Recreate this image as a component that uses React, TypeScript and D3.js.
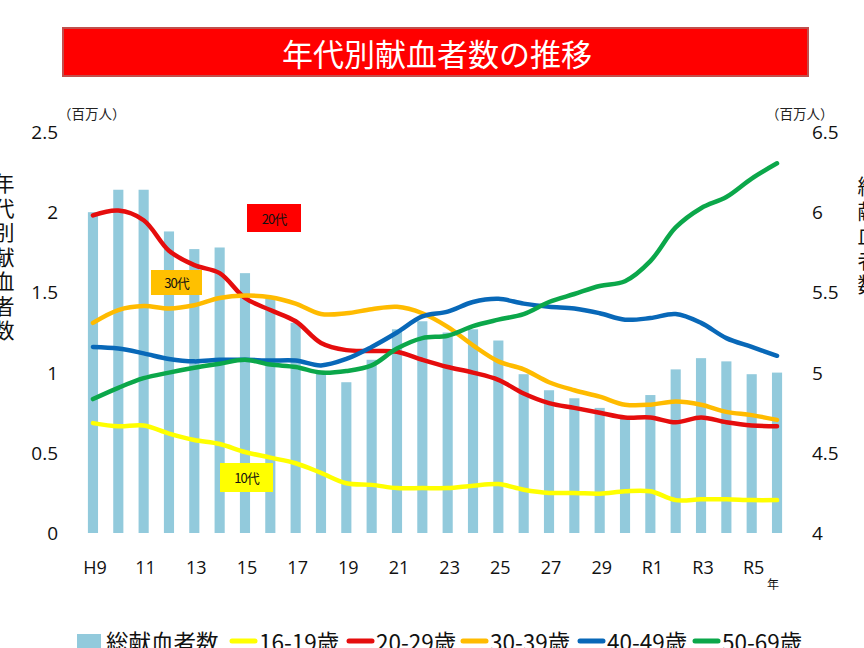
import React from "react";
import * as d3 from "d3";

const categories = [
  "H9","H10","H11","H12","H13","H14","H15","H16","H17","H18","H19","H20","H21","H22",
  "H23","H24","H25","H26","H27","H28","H29","H30","R1","R2","R3","R4","R5","R6",
];
const tickLabels = ["H9","11","13","15","17","19","21","23","25","27","29","R1","R3","R5"];
const tickCats = ["H9","H11","H13","H15","H17","H19","H21","H23","H25","H27","H29","R1","R3","R5"];

const totalDonors = [
  6.0, 6.14, 6.14, 5.88, 5.77, 5.78, 5.62, 5.46, 5.31, 5.0, 4.94, 5.08, 5.27, 5.32,
  5.25, 5.27, 5.2, 4.99, 4.89, 4.84, 4.78, 4.72, 4.86, 5.02, 5.09, 5.07, 4.99, 5.0,
];
const age16to19 = [
  0.685, 0.665, 0.67, 0.62, 0.58, 0.555, 0.505, 0.47, 0.435, 0.375, 0.31, 0.3, 0.28, 0.28,
  0.28, 0.295, 0.305, 0.27, 0.25, 0.25, 0.245, 0.26, 0.26, 0.205, 0.21, 0.21, 0.205, 0.205,
];
const age20to29 = [
  1.98, 2.01, 1.95, 1.76, 1.67, 1.62, 1.465, 1.39, 1.32, 1.185, 1.14, 1.135, 1.13, 1.08,
  1.035, 1.0, 0.955, 0.87, 0.81, 0.78, 0.75, 0.72, 0.72, 0.69, 0.72, 0.69, 0.67, 0.665,
];
const age30to39 = [
  1.31, 1.39, 1.415, 1.4, 1.42, 1.465, 1.48, 1.47, 1.43, 1.365, 1.37, 1.395, 1.41, 1.37,
  1.285, 1.17, 1.07, 1.02, 0.94, 0.89, 0.85, 0.8, 0.8, 0.82, 0.8, 0.755, 0.735, 0.705,
];
const age40to49 = [
  1.16, 1.15, 1.12, 1.085, 1.07, 1.08, 1.08, 1.075, 1.075, 1.045, 1.085, 1.16, 1.25, 1.35,
  1.38, 1.44, 1.46, 1.43, 1.41, 1.4, 1.37, 1.33, 1.34, 1.365, 1.31, 1.215, 1.16, 1.105,
];
const age50to69 = [
  0.835, 0.905, 0.965, 1.0, 1.03, 1.055, 1.08, 1.05, 1.035, 1.0, 1.01, 1.045, 1.15, 1.215,
  1.23, 1.29, 1.33, 1.365, 1.44, 1.49, 1.54, 1.57, 1.695, 1.905, 2.025, 2.095, 2.21, 2.305,
];
const leftTicks = [0, 0.5, 1, 1.5, 2, 2.5];
const rightTicks = [4, 4.5, 5, 5.5, 6, 6.5];
const legendLabels = ["総献血者数", "16-19歳", "20-29歳", "30-39歳", "40-49歳", "50-69歳"];

const BAR = "#92CADC";
const lineSeries = [
  { name: "16-19歳", values: age16to19, color: "#FFFF00" },
  { name: "20-29歳", values: age20to29, color: "#E50D0D" },
  { name: "30-39歳", values: age30to39, color: "#FFBB00" },
  { name: "40-49歳", values: age40to49, color: "#0868B8" },
  { name: "50-69歳", values: age50to69, color: "#0BA74A" },
];

const JP = "'Noto Sans CJK JP', 'Noto Sans', sans-serif";
const NUM = "'Open Sans', 'Noto Sans', sans-serif";

export default function App() {
  const W = 864, H = 648;
  const x = d3.scaleBand<string>().domain(categories).range([80.3, 789.7]).paddingInner(0.6).paddingOuter(0.3);
  const yL = d3.scaleLinear().domain([0, 2.5]).range([533, 132]);
  const yR = d3.scaleLinear().domain([4, 6.5]).range([533, 132]);
  const cx = (c: string) => (x(c) as number) + x.bandwidth() / 2;
  const line = d3
    .line<number>()
    .x((_, i) => cx(categories[i]))
    .y((d) => yL(d))
    .curve(d3.curveCatmullRom.alpha(0.5));

  const leftTitle = "年代別献血者数".split("");
  const rightTitle = "総献血者数".split("");

  const legendLineX = [230, 347, 461, 578, 693];
  const LY = 641;

  return (
    <svg width={W} height={H} style={{ position: "absolute", left: 0, top: 0, background: "#fff" }}>
      {/* title */}
      <rect x={63} y={28} width={745} height={48} fill="#FF0000" stroke="#C0504D" strokeWidth={2} />
      <text x={437} y={52} fill="#fff" fontFamily={JP} fontSize={31} textAnchor="middle" dominantBaseline="central">
        年代別献血者数の推移
      </text>

      {/* units */}
      <text x={58} y={113} fontFamily={JP} fontSize={13.5} fill="#222" dominantBaseline="central">（百万人）</text>
      <text x={766} y={113} fontFamily={JP} fontSize={13.5} fill="#222" dominantBaseline="central">（百万人）</text>

      {/* vertical axis titles */}
      {leftTitle.map((ch, i) => (
        <text key={i} x={4} y={182 + i * 24.5} fontFamily={JP} fontSize={21} textAnchor="middle" dominantBaseline="central" fill="#111">
          {ch}
        </text>
      ))}
      {rightTitle.map((ch, i) => (
        <text key={i} x={868} y={185 + i * 24.5} fontFamily={JP} fontSize={21} textAnchor="middle" dominantBaseline="central" fill="#111">
          {ch}
        </text>
      ))}

      {/* ticks */}
      {leftTicks.map((t) => (
        <text key={t} x={58} y={yL(t)} fontFamily={NUM} fontSize={19} textAnchor="end" dominantBaseline="central" fill="#111">
          {t}
        </text>
      ))}
      {rightTicks.map((t) => (
        <text key={t} x={812} y={yR(t)} fontFamily={NUM} fontSize={19} textAnchor="start" dominantBaseline="central" fill="#111">
          {t}
        </text>
      ))}

      {/* bars */}
      {categories.map((c, i) => (
        <rect key={c} x={x(c)} y={yR(totalDonors[i])} width={x.bandwidth()} height={533 - yR(totalDonors[i])} fill={BAR} />
      ))}

      {/* lines */}
      {lineSeries.map((s) => (
        <path key={s.name} d={line(s.values) || ""} fill="none" stroke={s.color} strokeWidth={4.5} strokeLinejoin="round" strokeLinecap="round" />
      ))}

      {/* annotation boxes */}
      <rect x={247} y={204} width={54} height={28} fill="#FF0000" />
      <text x={274} y={218} fontFamily={JP} fontSize={13} textAnchor="middle" dominantBaseline="central" fill="#111" letterSpacing={-1}>20代</text>
      <rect x={151} y={270} width={51} height={25} fill="#FFC000" />
      <text x={176.5} y={282.5} fontFamily={JP} fontSize={13} textAnchor="middle" dominantBaseline="central" fill="#111" letterSpacing={-1}>30代</text>
      <rect x={220} y={463} width={53} height={29} fill="#FFFF00" />
      <text x={246.5} y={477.5} fontFamily={JP} fontSize={13} textAnchor="middle" dominantBaseline="central" fill="#111" letterSpacing={-1}>10代</text>

      {/* x axis labels */}
      {tickCats.map((c, i) => (
        <text key={c} x={cx(c) + 2} y={567} fontFamily={NUM} fontSize={18} textAnchor="middle" dominantBaseline="central" fill="#111">
          {tickLabels[i]}
        </text>
      ))}
      <text x={773} y={583} fontFamily={JP} fontSize={12} textAnchor="middle" dominantBaseline="central" fill="#111">年</text>

      {/* legend */}
      <g fontFamily={JP} fontSize={22.5} fill="#111">
        <rect x={77} y={634} width={24} height={16} fill={BAR} />
        <text x={106} y={LY} dominantBaseline="central">{legendLabels[0]}</text>
        {lineSeries.map((s, i) => {
          const lx = legendLineX[i];
          return (
            <g key={s.name}>
              <line x1={lx + 2} x2={lx + 25} y1={LY} y2={LY} stroke={s.color} strokeWidth={5} strokeLinecap="round" />
              <text x={lx + 29} y={LY} dominantBaseline="central">{legendLabels[i + 1]}</text>
            </g>
          );
        })}
      </g>
    </svg>
  );
}
